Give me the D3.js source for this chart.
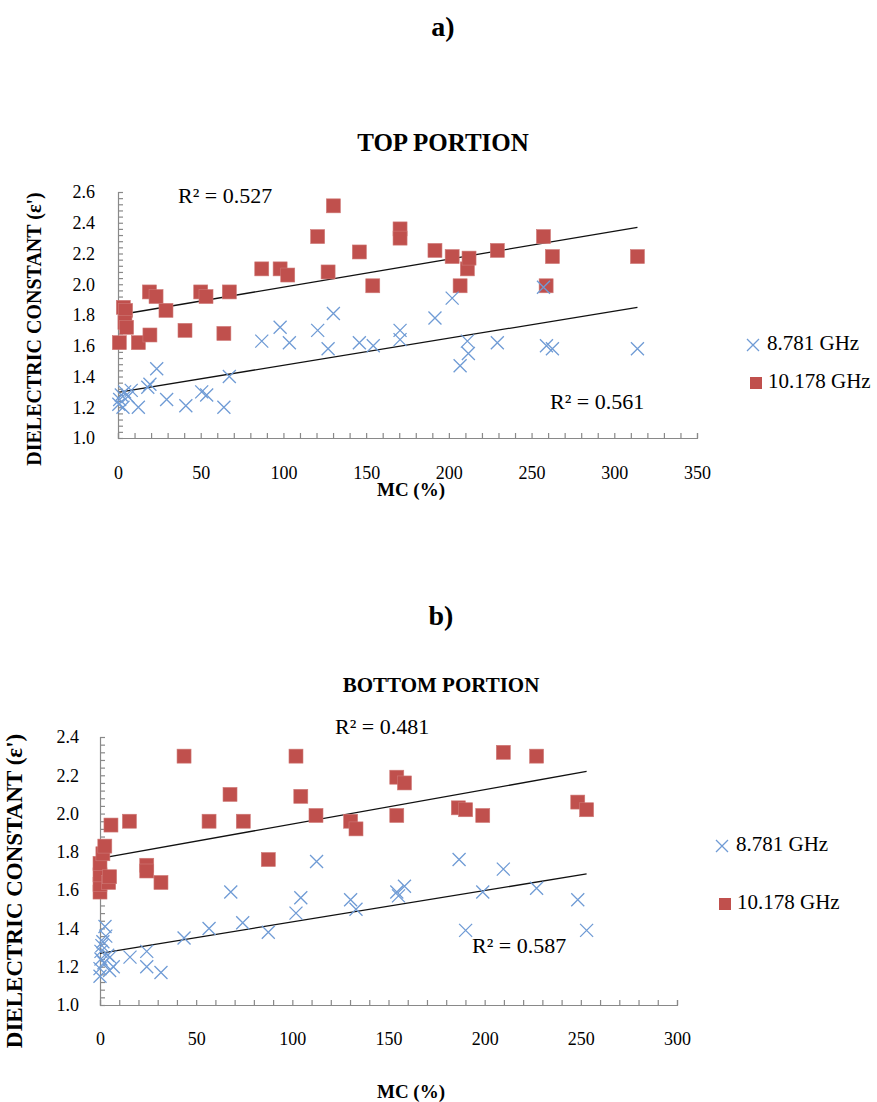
<!DOCTYPE html>
<html>
<head>
<meta charset="utf-8">
<script src="https://cdn.jsdelivr.net/npm/d3@7"></script>
<style>
  body { margin: 0; background: #fff; }
  svg text { font-family: "Liberation Serif", "Times New Roman", serif; fill: #000; }
</style>
</head>
<body>
<svg id="fig" width="877" height="1102"></svg>
<script>
// ---- data: [MC %, dielectric constant] ----
let topLow = [[0.5,1.22],[1,1.25],[2,1.28],[3,1.20],[4,1.30],[6,1.27],[8,1.31],[12.3,1.20],[18,1.33],[19.3,1.35],
  [23.4,1.45],[29.4,1.25],[41,1.21],[50.6,1.30],[53.6,1.28],[64,1.20],[67.3,1.40],[86.9,1.63],[98,1.72],[103.6,1.62],
  [120.7,1.70],[127,1.58],[130.2,1.81],[145.9,1.62],[154.3,1.60],[170.5,1.70],[170.5,1.64],[191.6,1.78],[202,1.91],
  [206.8,1.47],[211.2,1.63],[211.8,1.55],[229.3,1.62],[257.2,1.98],[259,1.60],[262.6,1.58],[314,1.58]];
let topHigh = [[0.8,1.62],[3.2,1.85],[4.6,1.83],[4.2,1.75],[5.2,1.72],[12.3,1.62],[19,1.95],[19.3,1.67],[23,1.92],
  [29,1.83],[40.5,1.70],[50,1.95],[53.2,1.92],[64,1.68],[67.3,1.95],[86.9,2.10],[98,2.10],[102.6,2.06],[120.7,2.31],
  [127,2.08],[130.2,2.51],[145.9,2.21],[154,1.99],[170.5,2.36],[170.5,2.30],[191.6,2.22],[202,2.18],[206.8,1.99],
  [211.2,2.10],[212.2,2.17],[229.3,2.22],[257.2,2.31],[258.8,1.99],[262.6,2.18],[314,2.18]];
let botLow = [[0,1.15],[0,1.19],[0.5,1.24],[0.5,1.28],[1,1.31],[1.5,1.33],[2,1.22],[3,1.36],[2.6,1.41],[4,1.26],
  [5,1.18],[6.9,1.20],[5.2,1.25],[15.6,1.25],[24.3,1.28],[24.3,1.20],[31.7,1.17],[43.7,1.35],[56.7,1.40],[68,1.59],
  [74.2,1.43],[87.5,1.38],[101.9,1.48],[104.4,1.56],[112.6,1.75],[130.3,1.55],[133.1,1.50],[154.3,1.59],[155.2,1.57],
  [158.3,1.62],[186.7,1.76],[190.1,1.39],[199,1.59],[209.7,1.71],[227,1.61],[248.4,1.55],[253,1.39]];
let botHigh = [[0,1.59],[0,1.63],[0,1.68],[0,1.74],[1.5,1.79],[2.5,1.83],[4.5,1.64],[5,1.67],[5.7,1.94],[15.3,1.96],
  [24.3,1.73],[24.3,1.70],[31.7,1.64],[43.7,2.30],[56.7,1.96],[67.6,2.10],[74.5,1.96],[87.5,1.76],[101.9,2.30],
  [104.4,2.09],[112.3,1.99],[130.3,1.96],[133.1,1.92],[154.3,2.19],[158.3,2.16],[154.3,1.99],[186.3,2.03],
  [190.1,2.02],[199,1.99],[209.7,2.32],[227,2.30],[248.4,2.06],[253,2.02]];

// linear trend lines: [intercept, slope, xStart, xEnd]
let topLowFit = [1.297, 0.00176, 0, 314];
let topHighFit = [1.80, 0.001815, 0, 314];
let botLowFit = [1.27, 0.00164, 0, 253];
let botHighFit = [1.766, 0.001794, 0, 253];

let seriesNames = ["8.781 GHz", "10.178 GHz"];
let yTicks = [1.0, 1.2, 1.4, 1.6, 1.8, 2.0, 2.2, 2.4, 2.6];

let blue = "#6f9bd5", red = "#c0504d", axisGray = "#898989";

let svg = d3.select("#fig");

function drawPanel(p) {
  let x = d3.scaleLinear().domain([0, p.xMax]).range([p.left, p.right]);
  let y = d3.scaleLinear().domain([1.0, p.yMax]).range([p.bottom, p.top]);
  let g = svg.append("g");

  // minor + major ticks (inside), step = major / 5
  let xMinor = d3.range(0, p.xMax + 0.01, 10);
  let yMinor = d3.range(1.0, p.yMax + 0.001, 0.04);
  let gx = g.append("g").attr("transform", "translate(0," + p.bottom + ")")
    .call(d3.axisBottom(x).tickValues(xMinor).tickSize(-5).tickFormat(""));
  let gy = g.append("g").attr("transform", "translate(" + p.left + ",0)")
    .call(d3.axisLeft(y).tickValues(yMinor).tickSize(-5).tickFormat(""));
  [gx, gy].forEach(function (a) {
    a.selectAll("path, line").attr("stroke", axisGray).attr("stroke-width", 1.2);
  });

  // tick labels
  g.append("g").attr("transform", "translate(0," + p.xLabelY + ")")
    .call(d3.axisBottom(x).tickValues(d3.range(0, p.xMax + 1, 50)).tickSize(0).tickPadding(0))
    .call(function (a) { a.select(".domain").remove(); })
    .selectAll("text").attr("font-size", 18).attr("font-family", "Liberation Serif");
  g.append("g").attr("transform", "translate(" + p.yLabelX + ",0)")
    .call(d3.axisLeft(y).tickValues(yTicks.filter(function (v) { return v <= p.yMax + 0.001; }))
      .tickSize(0).tickPadding(0).tickFormat(d3.format(".1f")))
    .call(function (a) { a.select(".domain").remove(); })
    .selectAll("text").attr("font-size", 18).attr("font-family", "Liberation Serif");

  // trend lines
  [p.lowFit, p.highFit].forEach(function (f) {
    g.append("line")
      .attr("x1", x(f[2])).attr("y1", y(f[0] + f[1] * f[2]))
      .attr("x2", x(f[3])).attr("y2", y(f[0] + f[1] * f[3]))
      .attr("stroke", "#111").attr("stroke-width", 1.3);
  });

  // 10.178 GHz squares
  g.selectAll(".sq").data(p.high).enter().append("rect")
    .attr("x", function (d) { return x(d[0]) - 7; })
    .attr("y", function (d) { return y(d[1]) - 7; })
    .attr("width", 14).attr("height", 14)
    .attr("fill", red).attr("stroke", "#cf7a77").attr("stroke-width", 0.6);

  // 8.781 GHz crosses
  g.selectAll(".cx").data(p.low).enter().append("path")
    .attr("d", function (d) {
      let cx = x(d[0]), cy = y(d[1]), s = 6.5;
      return "M" + (cx - s) + "," + (cy - s) + "L" + (cx + s) + "," + (cy + s) +
        "M" + (cx - s) + "," + (cy + s) + "L" + (cx + s) + "," + (cy - s);
    })
    .attr("stroke", blue).attr("stroke-width", 1.3).attr("fill", "none");

  // R² labels
  p.r2.forEach(function (r) {
    g.append("text").attr("x", r[1]).attr("y", r[2]).attr("font-size", 22)
      .attr("dominant-baseline", "middle").text("R² = " + r[0]);
  });

  // titles
  g.append("text").attr("x", p.cx).attr("y", p.letterY).attr("text-anchor", "middle")
    .attr("font-size", 28).attr("font-weight", "bold").attr("dominant-baseline", "middle").text(p.letter);
  g.append("text").attr("x", p.cx).attr("y", p.titleY).attr("text-anchor", "middle")
    .attr("font-size", p.titleSize).attr("font-weight", "bold").attr("dominant-baseline", "middle").text(p.title);
  g.append("text").attr("x", p.xTitleX).attr("y", p.xTitleY).attr("text-anchor", "middle")
    .attr("font-size", 19).attr("font-weight", "bold").attr("dominant-baseline", "middle").text("MC (%)");
  g.append("text").attr("transform", "translate(" + p.yTitleX + "," + p.yTitleY + ") rotate(-90)")
    .attr("text-anchor", "middle").attr("font-size", p.yTitleSize).attr("font-weight", "bold")
    .attr("dominant-baseline", "middle").text("DIELECTRIC CONSTANT (ε')");

  // legend
  let lg = g.append("g").attr("transform", "translate(" + p.legX + "," + p.legY + ")");
  lg.append("path").attr("d", "M-6,-6L6,6M-6,6L6,-6").attr("stroke", blue).attr("stroke-width", 1.3);
  lg.append("text").attr("x", 14).attr("y", 0).attr("font-size", 21)
    .attr("dominant-baseline", "middle").text(seriesNames[0]);
  lg.append("rect").attr("x", -3).attr("y", p.legGap - 6).attr("width", 12).attr("height", 12).attr("fill", red);
  lg.append("text").attr("x", 15).attr("y", p.legGap).attr("font-size", 21)
    .attr("dominant-baseline", "middle").text(seriesNames[1]);
}

drawPanel({
  xMax: 350, yMax: 2.6, left: 118, right: 697, top: 192, bottom: 438,
  xLabelY: 466, yLabelX: 95,
  low: topLow, high: topHigh, lowFit: topLowFit, highFit: topHighFit,
  r2: [["0.527", 178, 198], ["0.561", 550, 404]],
  cx: 443, letter: "a)", letterY: 30, title: "TOP PORTION", titleY: 145, titleSize: 25,
  xTitleX: 411, xTitleY: 492, yTitleX: 36, yTitleY: 329, yTitleSize: 20,
  legX: 753, legY: 345, legGap: 38
});

drawPanel({
  xMax: 300, yMax: 2.4, left: 100, right: 677, top: 737, bottom: 1005,
  xLabelY: 1032, yLabelX: 79,
  low: botLow, high: botHigh, lowFit: botLowFit, highFit: botHighFit,
  r2: [["0.481", 335, 729], ["0.587", 472, 948]],
  cx: 441, letter: "b)", letterY: 619, title: "BOTTOM PORTION", titleY: 687, titleSize: 21,
  xTitleX: 411, xTitleY: 1094, yTitleX: 17, yTitleY: 891, yTitleSize: 23,
  legX: 722, legY: 846, legGap: 58
});
</script>
</body>
</html>
